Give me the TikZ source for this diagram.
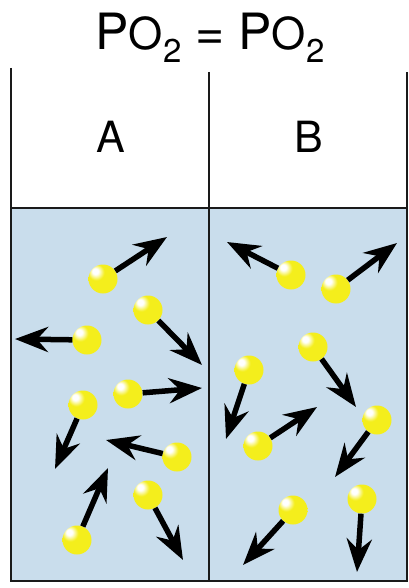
\documentclass[tikz,border=0pt]{standalone}
\usepackage{fontspec}
\setmainfont{TeX Gyre Heros}
\usetikzlibrary{arrows.meta,positioning}
\definecolor{water}{HTML}{C9DDEC}
\definecolor{molyellow}{HTML}{F4EE1C}
\definecolor{molrim}{HTML}{D8C800}
\definecolor{wall}{HTML}{1A1A1A}
\pgfdeclareradialshading{molecule}{\pgfpoint{-14bp}{14bp}}{%
  color(0bp)=(white); color(5bp)=(white); color(14bp)=(molyellow);
  color(52bp)=(molyellow); color(66bp)=(molrim); color(90bp)=(molrim)}
\tikzset{
  mol/.style={circle, shading=molecule, inner sep=0pt, minimum size=29pt},
  motion/.style={-{Stealth[length=33pt, width=25pt, inset=11pt]}, line width=5.5pt, draw=black},
  wallline/.style={line width=2.4pt, draw=wall},
  label/.style={font=\fontsize{43}{43}\selectfont}
}

\begin{document}
\begin{tikzpicture}[x=1pt, y=-1pt]
    \useasboundingbox (0,0) rectangle (408,588);
    \fill[white] (0,0) rectangle (408,588);
    % liquid in both compartments
    \fill[water] (11,208) rectangle (407,581);
    \draw[wallline] (11,68) -- (11,581) -- (407,581) -- (407,72);
    \draw[wallline] (209,72) -- (209,581);
    \draw[wallline] (11,208) -- (407,208);
    % partial pressures
    \node[anchor=base] (title) at (210,50) {\fontsize{50}{50}\selectfont P{\fontsize{44}{44}\selectfont O\raisebox{-13pt}{\fontsize{33}{33}\selectfont 2}} = P{\fontsize{44}{44}\selectfont O\raisebox{-13pt}{\fontsize{33}{33}\selectfont 2}}};
    \node[label] (sideA) at (111,137) {A};
    \node[label] (sideB) at (309,137) {B};
    % compartment A
    \foreach \n/\x/\y/\tx/\ty in {a1/103/279/167/237, a2/148/310/202/365, a3/87/340/15/339,
        a4/128/394/202/388, a5/83/405/55/469, a6/177/457/106/440, a7/148/495/183/560,
        a8/77/540/108/468,
    % compartment B
        b1/291/275/227/242, b2/336/289/397/243, b3/313/347/356/407, b4/249/370/226/439,
        b5/258/446/317/407, b6/377/420/335/477, b7/293/510/243/565, b8/362/499/357/572} {
      \node[mol] (\n) at (\x,\y) {};
      \coordinate (\n tip) at (\tx,\ty);
      \draw[motion] (\n) -- (\n tip);
    }
  \end{tikzpicture}
\end{document}
